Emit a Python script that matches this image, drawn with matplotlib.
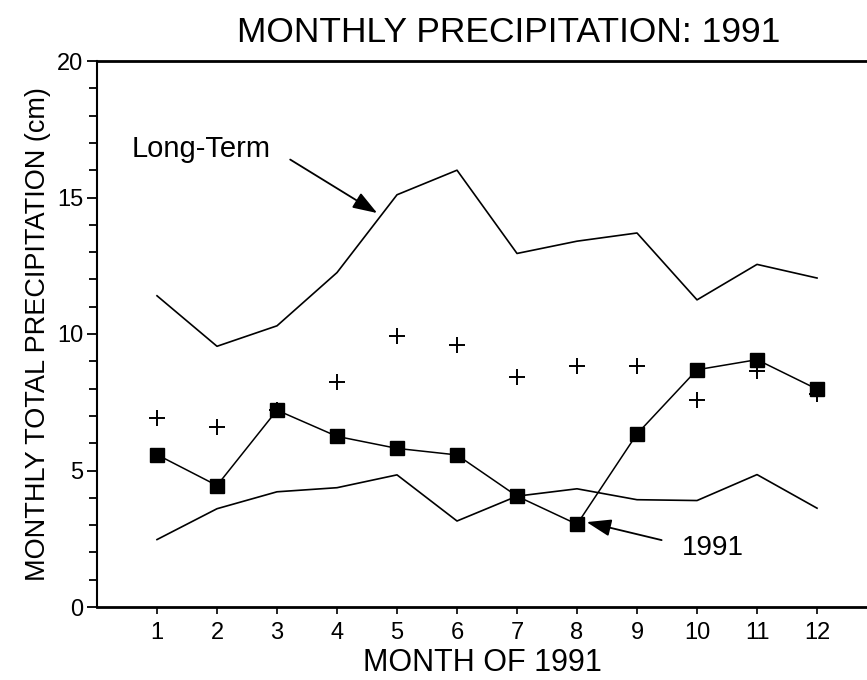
import matplotlib
matplotlib.use("Agg")
import matplotlib.pyplot as plt
from matplotlib.ticker import MultipleLocator

plt.rcParams['font.family'] = ['Liberation Sans', 'DejaVu Sans']

months = list(range(1, 13))
# long-term upper / lower envelope lines
upper_lt = [11.4, 9.55, 10.3, 12.25, 15.1, 16.0, 12.95, 13.4, 13.7, 11.25, 12.55, 12.05]
lower_lt = [2.47, 3.6, 4.22, 4.37, 4.84, 3.15, 4.06, 4.33, 3.93, 3.9, 4.85, 3.62]
# long-term mean (plus markers)
mean_lt = [6.92, 6.58, 7.21, 8.26, 9.94, 9.59, 8.43, 8.82, 8.81, 7.58, 8.65, 7.8]
# 1991 monthly totals
precip_1991 = [5.58, 4.45, 7.21, 6.25, 5.81, 5.57, 4.06, 3.03, 6.34, 8.69, 9.06, 7.98]

fig = plt.figure(figsize=(8.67, 6.8), dpi=100)
ax = fig.add_axes([97/867, 73/680, 770/867, 546/680])

ax.plot(months, upper_lt, color='black', lw=1.2)
ax.plot(months, lower_lt, color='black', lw=1.2)
ax.plot(months, mean_lt, linestyle='none', marker='+', color='black',
        markersize=11, mew=1.4)
ax.plot(months, precip_1991, color='black', lw=1.1, marker='s',
        markersize=10, markerfacecolor='black', markeredgecolor='black')

ax.set_xlim(0, 12.833)
ax.set_ylim(0, 20)
ax.set_xticks(months)
ax.yaxis.set_major_locator(MultipleLocator(5))
ax.yaxis.set_minor_locator(MultipleLocator(1))
ax.tick_params(axis='y', which='major', direction='out', length=7, width=1.3,
               labelsize=17, pad=3)
ax.tick_params(axis='y', which='minor', direction='out', length=6, width=1.3)
ax.tick_params(axis='x', direction='out', length=5, width=1.2, labelsize=17, pad=6)

ax.spines['right'].set_visible(False)
ax.spines['top'].set_linewidth(2.0)
ax.spines['bottom'].set_linewidth(2.0)
ax.spines['left'].set_linewidth(1.5)

ax.set_xlabel('MONTH OF 1991', fontsize=22, labelpad=3)
ax.set_ylabel('MONTHLY TOTAL PRECIPITATION (cm)', fontsize=19.5, labelpad=4)
fig.text(509/867, 1 - 32/680, 'MONTHLY PRECIPITATION: 1991', fontsize=25.5,
         ha='center', va='center')

arrow = dict(arrowstyle='-|>,head_length=1.0,head_width=0.35', color='black',
             lw=1.3, mutation_scale=15, shrinkA=0, shrinkB=0)
ax.annotate('', xy=(4.67, 14.43), xytext=(3.22, 16.39), arrowprops=arrow)
ax.text(0.57, 16.47, 'Long-Term', fontsize=21, ha='left', va='baseline')
ax.annotate('', xy=(8.16, 3.11), xytext=(9.41, 2.45), arrowprops=arrow)
ax.text(9.74, 1.9, '1991', fontsize=20, ha='left', va='baseline')

fig.savefig('out.png', dpi=100)
